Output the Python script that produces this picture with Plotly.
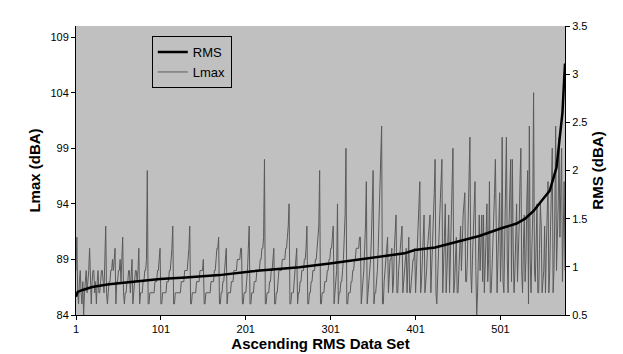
import plotly.graph_objects as go

# Lmax (dBA) per data set, ascending-RMS order (1..577)
lmax = [
    88, 91, 86, 85, 87, 88, 86, 85, 87, 84, 86, 87, 88, 86, 87, 88, 90, 86, 85, 87,
    88, 88, 86, 87, 85, 87, 88, 86, 86, 87, 88, 88, 87, 86, 89, 92, 86, 85, 86, 87,
    87, 88, 88, 89, 88, 89, 90, 85, 87, 87, 88, 88, 89, 87, 89, 91, 86, 85, 86, 86,
    87, 87, 88, 88, 86, 88, 89, 85, 86, 87, 88, 88, 87, 88, 90, 85, 86, 86, 86, 87,
    87, 88, 88, 89, 97, 85, 85, 86, 86, 86, 86, 86, 86, 87, 87, 87, 88, 88, 89, 90,
    85, 85, 86, 86, 86, 86, 86, 87, 87, 87, 88, 88, 89, 90, 92, 85, 85, 86, 86, 86,
    86, 86, 86, 86, 87, 87, 87, 87, 88, 88, 88, 88, 89, 90, 92, 85, 85, 86, 86, 86,
    86, 86, 87, 87, 87, 87, 88, 88, 88, 88, 89, 85, 85, 86, 86, 86, 86, 86, 86, 87,
    87, 87, 87, 88, 88, 89, 90, 90, 91, 85, 85, 86, 86, 87, 87, 88, 89, 90, 85, 86,
    86, 86, 86, 87, 87, 87, 88, 88, 88, 88, 89, 89, 89, 89, 90, 90, 85, 85, 86, 86,
    86, 87, 88, 90, 92, 85, 85, 86, 86, 86, 87, 87, 87, 88, 88, 88, 88, 89, 89, 90,
    90, 91, 98, 85, 85, 86, 86, 86, 87, 87, 88, 88, 89, 90, 85, 85, 86, 86, 87, 88,
    88, 88, 88, 89, 89, 89, 89, 90, 90, 91, 92, 94, 85, 85, 86, 86, 86, 87, 88, 89,
    90, 85, 86, 86, 87, 87, 88, 88, 88, 89, 89, 90, 92, 85, 85, 86, 86, 87, 87, 88,
    88, 88, 89, 89, 90, 91, 92, 97, 85, 85, 86, 86, 86, 87, 87, 87, 88, 88, 89, 89,
    90, 90, 91, 92, 85, 86, 87, 88, 94, 85, 86, 86, 87, 87, 88, 89, 91, 93, 99, 85,
    85, 86, 86, 86, 87, 87, 88, 88, 89, 89, 90, 90, 90, 90, 91, 91, 85, 86, 87, 88,
    90, 92, 96, 85, 86, 87, 88, 89, 91, 94, 97, 85, 86, 86, 87, 88, 90, 93, 96, 99,
    101, 85, 85, 87, 88, 89, 90, 91, 86, 88, 89, 89, 90, 86, 87, 90, 92, 93, 86, 86,
    88, 89, 90, 91, 92, 86, 87, 88, 89, 90, 86, 88, 91, 86, 86, 87, 88, 89, 89, 90,
    86, 88, 90, 92, 94, 96, 86, 87, 89, 91, 93, 86, 87, 88, 90, 91, 92, 93, 86, 88,
    90, 92, 95, 98, 86, 85, 88, 90, 92, 94, 96, 98, 86, 88, 91, 94, 86, 88, 90, 93,
    86, 89, 92, 96, 99, 86, 87, 89, 91, 86, 86, 88, 90, 92, 88, 91, 93, 94, 95, 87,
    87, 89, 92, 96, 100, 88, 86, 89, 92, 94, 96, 88, 84, 86, 90, 93, 88, 91, 93, 87,
    93, 86, 88, 91, 94, 87, 89, 96, 86, 86, 88, 90, 92, 95, 98, 88, 86, 89, 92, 95,
    87, 90, 100, 87, 86, 91, 95, 100, 89, 86, 92, 95, 98, 87, 98, 90, 86, 88, 92, 94,
    87, 89, 92, 96, 99, 88, 86, 90, 93, 87, 89, 94, 97, 85, 101, 89, 86, 90, 93, 104,
    88, 87, 91, 94, 86, 86, 90, 94, 92, 86, 87, 88, 92, 86, 90, 94, 96, 86, 88, 92,
    96, 99, 86, 88, 93, 101, 88, 91, 94, 100, 91, 95, 99, 87, 91, 96, 88,
]
lmax_x = list(range(1, len(lmax) + 1))

# RMS (dBA) read at sample positions along the ascending curve
rms_x = [1, 3, 9, 20, 40, 60, 80, 100, 130, 170, 209, 240, 264, 300, 330, 355,
         388, 400, 424, 450, 476, 502, 520, 530, 540, 549, 559, 567, 571, 574, 577]
rms = [0.69, 0.74, 0.76, 0.79, 0.82, 0.84, 0.86, 0.873, 0.89, 0.914, 0.955, 0.975,
       0.995, 1.035, 1.07, 1.10, 1.14, 1.175, 1.20, 1.26, 1.32, 1.40, 1.45, 1.50,
       1.58, 1.68, 1.79, 2.03, 2.33, 2.60, 3.11]

x_ticks = [1, 101, 201, 301, 401, 501]
y_ticks = [84, 89, 94, 99, 104, 109]
y2_ticks = [0.5, 1, 1.5, 2, 2.5, 3, 3.5]

FONT = "Liberation Sans, Arial, sans-serif"

fig = go.Figure()
fig.add_trace(go.Scatter(x=lmax_x, y=lmax, mode="lines", name="Lmax",
                         line=dict(color="#5a5a5a", width=1), legendrank=2))
fig.add_trace(go.Scatter(x=rms_x, y=rms, mode="lines", name="RMS", yaxis="y2",
                         line=dict(color="#000000", width=2.5), legendrank=1))

fig.update_layout(
    width=623, height=354,
    margin=dict(l=68, r=66, t=15, b=44),
    paper_bgcolor="white", plot_bgcolor="#c0c0c0",
    font=dict(family=FONT, size=11, color="black"),
    showlegend=True,
    legend=dict(x=0.155, y=0.965, xanchor="left", yanchor="top",
                bgcolor="#c0c0c0", bordercolor="black", borderwidth=1,
                font=dict(size=13), tracegroupgap=0, itemwidth=30),
    xaxis=dict(range=[1, 577], tickvals=x_ticks, showgrid=False, zeroline=False,
               showline=True, linecolor="black", linewidth=1,
               ticks="outside", ticklen=4, tickcolor="black",
               title=dict(text="<b>Ascending RMS Data Set</b>", font=dict(size=15), standoff=4)),
    yaxis=dict(range=[84, 110], tickvals=y_ticks, showgrid=False, zeroline=False,
               showline=True, linecolor="black", linewidth=1,
               ticks="outside", ticklen=4, tickcolor="black",
               title=dict(text="<b>Lmax (dBA)</b>", font=dict(size=15), standoff=6)),
    yaxis2=dict(range=[0.5, 3.5], tickvals=y2_ticks, overlaying="y", side="right",
                showgrid=False, zeroline=False,
                showline=True, linecolor="black", linewidth=1,
                ticks="outside", ticklen=4, tickcolor="black",
                title=dict(text="<b>RMS (dBA)</b>", font=dict(size=15), standoff=6)),
)

fig.write_html("out.html")
